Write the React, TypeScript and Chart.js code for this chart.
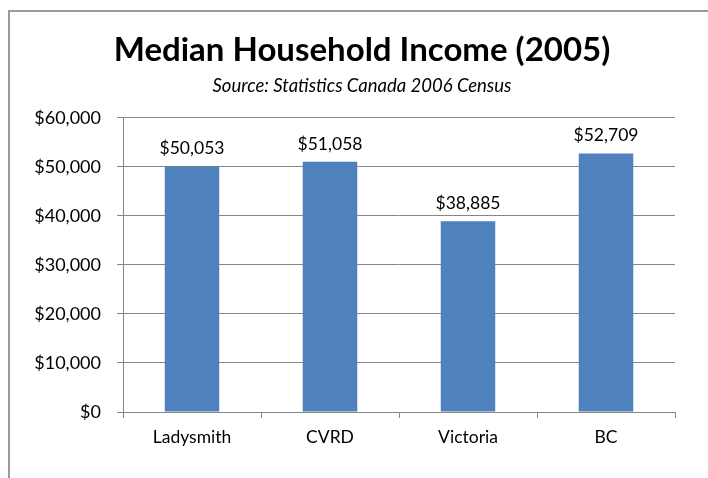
import React, { useEffect, useRef } from "react";
import { Chart, registerables } from "chart.js";

Chart.register(...registerables);

const categories = ["Ladysmith", "CVRD", "Victoria", "BC"];
const incomes = [50053, 51058, 38885, 52709];
const yMin = 0;
const yMax = 60000;
const yStep = 10000;
const titleText = "Median Household Income (2005)";
const subtitleText = "Source: Statistics Canada 2006 Census";

const FONT = "Lato, 'Open Sans', sans-serif";
const fmt = (v: number) => "$" + Number(v).toLocaleString("en-US");

const valueLabels = {
  id: "valueLabels",
  afterDatasetsDraw(chart: any) {
    const ctx = chart.ctx;
    ctx.save();
    ctx.font = `17.5px ${FONT}`;
    ctx.fillStyle = "#000";
    ctx.textAlign = "center";
    ctx.textBaseline = "bottom";
    chart.data.datasets.forEach((ds: any, di: number) => {
      const meta = chart.getDatasetMeta(di);
      meta.data.forEach((el: any, i: number) => {
        ctx.fillText(fmt(ds.data[i]), el.x, el.y - 9);
      });
    });
    ctx.restore();
  },
};

export default function App() {
  const ref = useRef<HTMLCanvasElement | null>(null);
  useEffect(() => {
    if (!ref.current) return;
    const chart = new Chart(ref.current, {
      type: "bar",
      data: {
        labels: categories,
        datasets: [
          {
            data: incomes,
            backgroundColor: "#4F81BD",
            borderWidth: 0,
            categoryPercentage: 1,
            barPercentage: 0.395,
          },
        ],
      },
      options: {
        animation: false,
        responsive: false,
        maintainAspectRatio: false,
        layout: { padding: { left: 16, right: 0, top: 0, bottom: 0 } },
        plugins: {
          legend: { display: false },
          tooltip: { enabled: false },
          title: {
            display: true,
            text: titleText,
            color: "#000",
            font: { family: FONT, size: 33, weight: "bold", lineHeight: 1.2 },
            padding: { top: 31, bottom: 2 },
          },
          subtitle: {
            display: true,
            text: subtitleText,
            color: "#000",
            font: { family: FONT, size: 18.5, style: "italic", lineHeight: 1.2 },
            padding: { top: 2, bottom: 21 },
          },
        },
        scales: {
          x: {
            offset: true,
            grid: {
              offset: true,
              drawOnChartArea: false,
              drawTicks: true,
              tickLength: 6,
              color: "#868686",
            },
            border: { display: true, color: "#868686", width: 1 },
            ticks: {
              color: "#000",
              font: { family: FONT, size: 17.5 },
              padding: 9,
            },
            afterFit: (s: any) => {
              s.height = 66;
            },
          },
          y: {
            min: yMin,
            max: yMax,
            grid: {
              color: "#868686",
              drawTicks: true,
              tickLength: 6,
            },
            border: { display: true, color: "#868686", width: 1 },
            ticks: {
              stepSize: yStep,
              color: "#000",
              font: { family: FONT, size: 18 },
              padding: 16,
              callback: (v: any) => fmt(v),
            },
            afterFit: (s: any) => {
              s.width = 107;
            },
          },
          y2: {
            position: "right",
            display: true,
            grid: { display: false, drawTicks: false },
            border: { display: false },
            ticks: { display: false },
            afterFit: (s: any) => {
              s.width = 33;
            },
          },
        },
      },
      plugins: [valueLabels],
    });
    return () => chart.destroy();
  }, []);

  return (
    <div>
      <div
        style={{
          position: "absolute",
          left: 8,
          top: 10,
          width: 700,
          height: 468,
          boxSizing: "border-box",
          borderTop: "2px solid #9a9a9a",
          borderLeft: "2px solid #9a9a9a",
        }}
      />
      <canvas
        ref={ref}
        width={708}
        height={478}
        style={{ position: "absolute", left: 0, top: 0, width: 708, height: 478 }}
      />
    </div>
  );
}
